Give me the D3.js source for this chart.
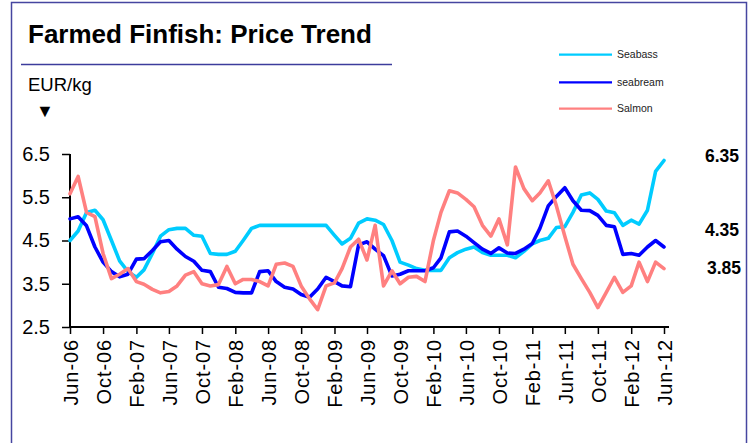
<!DOCTYPE html>
<html>
<head>
<meta charset="utf-8">
<script src="https://cdn.jsdelivr.net/npm/d3@7"></script>
<style>
  html, body { margin: 0; padding: 0; background: #fff; }
  svg { display: block; font-family: "Liberation Sans", Arial, sans-serif; }
</style>
</head>
<body>
<svg id="chart" width="750" height="443"></svg>
<script>
// ---- data ----
const startMonth = new Date(2006, 5, 1);   // Jun-06
const endMonth = new Date(2012, 5, 1);     // Jun-12
const months = d3.timeMonth.range(startMonth, d3.timeMonth.offset(endMonth, 1));

const seabass = [4.5,4.72,5.15,5.2,4.98,4.5,4.03,3.78,3.65,3.82,
  4.2,4.6,4.75,4.78,4.78,4.62,4.6,4.2,4.18,4.18,
  4.25,4.5,4.78,4.85,4.85,4.85,4.85,4.85,4.85,4.85,
  4.85,4.85,4.62,4.42,4.55,4.9,5.0,4.97,4.87,4.5,
  4.0,3.93,3.85,3.81,3.81,3.81,4.1,4.22,4.3,4.35,
  4.22,4.16,4.16,4.16,4.1,4.25,4.42,4.5,4.55,4.8,
  4.82,5.15,5.55,5.6,5.45,5.18,5.14,4.85,4.97,4.88,
  5.2,6.1,6.35];

const seabream = [5.0,5.05,4.84,4.35,4.0,3.78,3.66,3.72,4.07,4.08,
  4.27,4.47,4.5,4.3,4.13,4.02,3.81,3.78,3.42,3.39,
  3.3,3.29,3.29,3.78,3.8,3.55,3.42,3.38,3.25,3.19,
  3.38,3.65,3.55,3.45,3.43,4.4,4.47,4.3,4.15,3.68,
  3.72,3.8,3.8,3.8,3.87,4.1,4.7,4.72,4.6,4.45,
  4.3,4.2,4.33,4.21,4.2,4.3,4.43,4.78,5.3,5.52,
  5.72,5.42,5.2,5.19,5.08,4.85,4.82,4.18,4.2,4.16,
  4.35,4.5,4.35];

const salmon = [5.58,5.98,5.15,5.05,4.2,3.62,3.72,3.85,3.55,3.49,
  3.37,3.29,3.32,3.45,3.7,3.78,3.5,3.45,3.48,3.9,
  3.5,3.6,3.6,3.55,3.45,3.95,3.98,3.9,3.45,3.15,
  2.9,3.45,3.52,3.85,4.35,4.53,4.05,4.85,3.45,3.8,
  3.5,3.65,3.67,3.55,4.5,5.15,5.65,5.6,5.45,5.28,
  4.85,4.6,5.0,4.4,6.2,5.7,5.42,5.6,5.88,5.3,
  4.6,3.95,3.62,3.3,2.95,3.3,3.65,3.3,3.45,4.0,
  3.55,4.0,3.85];

const seriesNames = ["Seabass", "seabream", "Salmon"];
const seriesColors = ["#00CCFF", "#0000FF", "#FF8080"];
const seriesValues = [seabass, seabream, salmon];

const yTicks = [2.5, 3.5, 4.5, 5.5, 6.5];
const endLabels = ["6.35", "4.35", "3.85"];
const endLabelPos = [6.47, 4.76, 3.86];

// ---- layout ----
const svg = d3.select("#chart");

// frame
svg.append("rect")
  .attr("x", 11.5).attr("y", 2.5)
  .attr("width", 735).attr("height", 470)
  .attr("fill", "none").attr("stroke", "#4646a0").attr("stroke-width", 1.5);

// title
svg.append("text")
  .attr("x", 28).attr("y", 43)
  .attr("font-size", 26).attr("font-weight", "bold").attr("fill", "#000")
  .text("Farmed Finfish: Price Trend");

svg.append("line")
  .attr("x1", 21).attr("x2", 392).attr("y1", 64.5).attr("y2", 64.5)
  .attr("stroke", "#3c3c9c").attr("stroke-width", 1.5);

svg.append("text")
  .attr("x", 28).attr("y", 91)
  .attr("font-size", 18.5).attr("fill", "#000")
  .text("EUR/kg");

svg.append("text")
  .attr("x", 36).attr("y", 117)
  .attr("font-size", 18).attr("fill", "#000")
  .text("\u25BC");

// scales
const x = d3.scaleTime().domain([startMonth, endMonth]).range([70, 664]);
const y = d3.scaleLinear().domain([2.5, 6.5]).range([327, 154]);

// y axis
const yAxis = svg.append("g").attr("transform", "translate(70,0)")
  .call(d3.axisLeft(y).tickValues(yTicks).tickFormat(d3.format(".1f")).tickSize(8).tickPadding(12));
yAxis.select(".domain").remove();
yAxis.selectAll(".tick line").attr("stroke", "#000").attr("stroke-width", 1.5);
yAxis.selectAll(".tick text").attr("font-size", 20).attr("fill", "#000")
  .attr("font-family", "'Liberation Sans', Arial, sans-serif");
svg.append("line")
  .attr("x1", 70).attr("x2", 70).attr("y1", y(6.5)).attr("y2", y(2.5) + 1)
  .attr("stroke", "#000").attr("stroke-width", 2);

// x axis
const xTicks = d3.timeMonth.range(startMonth, d3.timeMonth.offset(endMonth, 1), 4);
const xAxis = svg.append("g").attr("transform", `translate(0,${y(2.5)})`)
  .call(d3.axisBottom(x).tickValues(xTicks).tickFormat(d3.timeFormat("%b-%y")).tickSize(7));
xAxis.select(".domain").remove();
xAxis.selectAll(".tick line").attr("stroke", "#000").attr("stroke-width", 1.5);
xAxis.selectAll(".tick text")
  .attr("font-size", 20).attr("fill", "#000")
  .attr("letter-spacing", "0.9px")
  .attr("font-family", "'Liberation Sans', Arial, sans-serif")
  .attr("transform", "rotate(-90)")
  .attr("text-anchor", "end")
  .attr("dy", "0.36em")
  .attr("x", -12).attr("y", 0);
svg.append("line")
  .attr("x1", 69).attr("x2", 669).attr("y1", y(2.5)).attr("y2", y(2.5))
  .attr("stroke", "#000").attr("stroke-width", 2);

// lines
const line = d3.line()
  .x((d, i) => x(months[i]))
  .y(d => y(d))
  .curve(d3.curveLinear);

seriesValues.forEach((vals, k) => {
  svg.append("path")
    .datum(vals)
    .attr("d", line)
    .attr("fill", "none")
    .attr("stroke", seriesColors[k])
    .attr("stroke-width", 3.6)
    .attr("stroke-linejoin", "round")
    .attr("stroke-linecap", "round");
});

// end labels
endLabels.forEach((t, k) => {
  svg.append("text")
    .attr("x", k === 2 ? 707 : 705)
    .attr("y", y(endLabelPos[k]))
    .attr("dy", "0.36em")
    .attr("font-size", 17.5).attr("font-weight", "bold").attr("fill", "#000")
    .text(t);
});

// legend
const legendY = [54.7, 82.3, 108.7];
seriesNames.forEach((n, k) => {
  svg.append("line")
    .attr("x1", 559).attr("x2", 612)
    .attr("y1", legendY[k]).attr("y2", legendY[k])
    .attr("stroke", seriesColors[k]).attr("stroke-width", 2.2);
  svg.append("text")
    .attr("x", 617).attr("y", legendY[k])
    .attr("dy", "0.36em")
    .attr("font-size", 10.5).attr("fill", "#222")
    .text(n);
});
</script>
</body>
</html>
